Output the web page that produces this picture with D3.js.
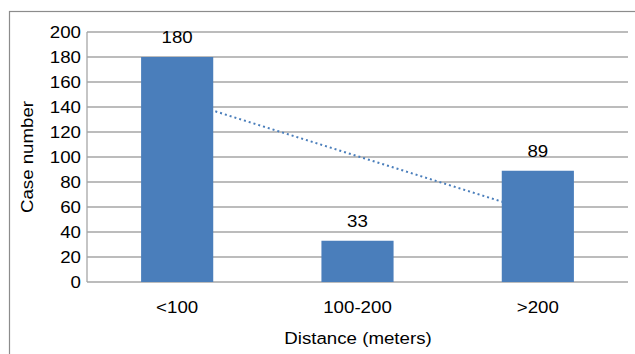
<!DOCTYPE html>
<html><head><meta charset="utf-8">
<script src="https://cdn.jsdelivr.net/npm/d3@7"></script>
<style>body{margin:0;background:#fff}svg{display:block}text{font-family:"Liberation Sans",Arial,sans-serif;fill:#000}</style>
</head><body><svg id="c" width="635" height="354"></svg>
<script>
const categories = ["<100", "100-200", ">200"];
const values = [180, 33, 89];
const yTicks = [0, 20, 40, 60, 80, 100, 120, 140, 160, 180, 200];
const xTitle = "Distance (meters)";
const yTitle = "Case number";

const svg = d3.select("#c");
const W = 635, H = 354;
const m = {left: 87, right: 7, top: 32, bottom: 72};
const x = d3.scaleBand().domain(categories).range([m.left, W - m.right]).paddingInner(0.6).paddingOuter(0.3);
const y = d3.scaleLinear().domain([0, 200]).range([H - m.bottom, m.top]);
const FS = 17, SX = 1.1;

function label(g, px, py, txt, anchor, rot) {
  return g.append("text")
    .attr("transform", `translate(${px},${py})` + (rot ? ` rotate(${rot})` : "") + ` scale(${SX},1)`)
    .attr("text-anchor", anchor).attr("font-size", FS).text(txt);
}

// outer border
svg.append("rect").attr("x", 9.5).attr("y", 11.5).attr("width", 640).attr("height", 360)
  .attr("fill", "none").attr("stroke", "#8c8c8c").attr("stroke-width", 1.2);

// gridlines
svg.append("g").selectAll("line").data(yTicks).join("line")
  .attr("x1", m.left).attr("x2", W - m.right)
  .attr("y1", d => y(d)).attr("y2", d => y(d))
  .attr("stroke", "#a6a6a6").attr("stroke-width", 1.3);

// y axis line
svg.append("line").attr("x1", m.left).attr("x2", m.left).attr("y1", y(200)).attr("y2", y(0))
  .attr("stroke", "#a6a6a6").attr("stroke-width", 1.3);

// y tick labels via axis
const yAxis = d3.axisLeft(y).tickValues(yTicks).tickSize(0).tickPadding(6);
const ga = svg.append("g").attr("transform", `translate(${m.left},0)`).call(yAxis);
ga.select(".domain").remove();
ga.selectAll(".tick text").attr("font-size", FS).attr("font-family", "Liberation Sans, Arial, sans-serif")
  .attr("fill", "#000").attr("dy", "0.35em")
  .attr("transform", `scale(${SX},1)`).attr("x", -6 / SX);

// trendline (linear regression) behind bars
const xs = categories.map((c, i) => i + 1);
const n = xs.length;
const mx = d3.mean(xs), my = d3.mean(values);
const slope = d3.sum(xs.map((xi, i) => (xi - mx) * (values[i] - my))) / d3.sum(xs.map(xi => (xi - mx) ** 2));
const icpt = my - slope * mx;
const cx = c => x(c) + x.bandwidth() / 2;
svg.append("line")
  .attr("x1", cx(categories[0])).attr("y1", y(icpt + slope * 1))
  .attr("x2", cx(categories[n - 1])).attr("y2", y(icpt + slope * n))
  .attr("stroke", "#4a7ebb").attr("stroke-width", 2).attr("stroke-dasharray", "2,3");

// bars
svg.append("g").selectAll("rect").data(values).join("rect")
  .attr("x", (d, i) => x(categories[i])).attr("width", x.bandwidth())
  .attr("y", d => y(d)).attr("height", d => y(0) - y(d))
  .attr("fill", "#4a7ebb");

// data labels
const gl = svg.append("g");
values.forEach((v, i) => label(gl, cx(categories[i]), y(v) - 14, v, "middle"));

// category labels
const gc = svg.append("g");
categories.forEach(c => label(gc, cx(c), 313, c, "middle"));

// axis titles
label(svg, 358, 344, xTitle, "middle");
label(svg, 33, 157, yTitle, "middle", -90);
</script></body></html>
